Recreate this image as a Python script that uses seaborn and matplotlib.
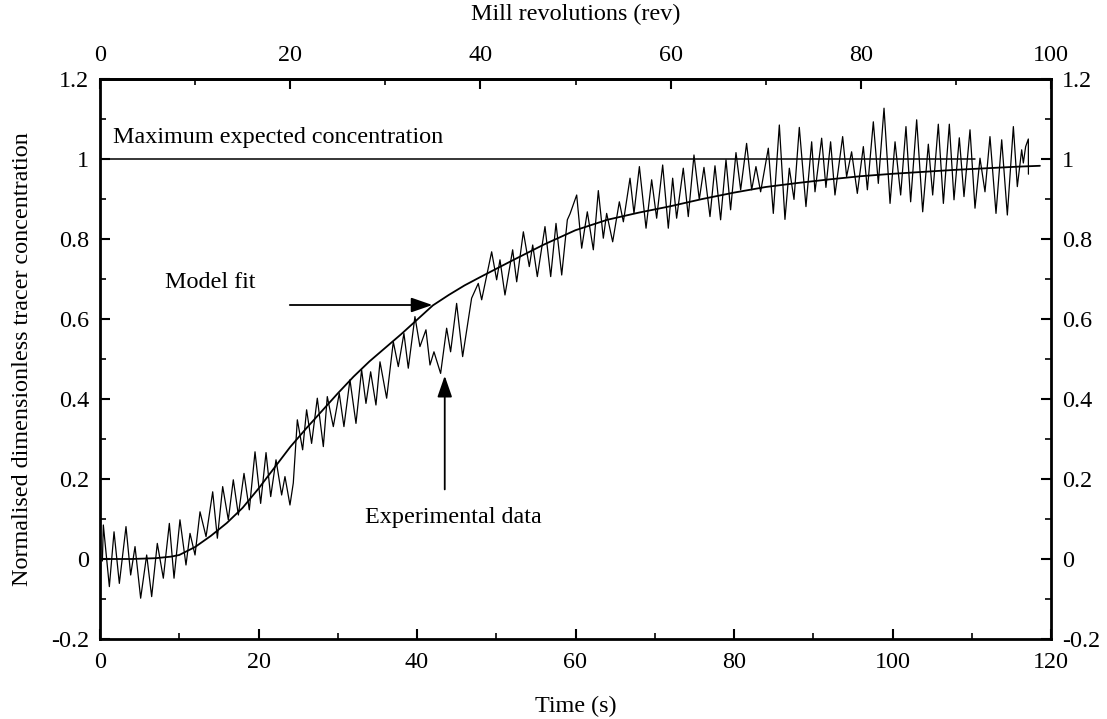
import numpy as np
import pandas as pd
import matplotlib
matplotlib.use("Agg")
import matplotlib.pyplot as plt
from matplotlib.ticker import MultipleLocator, FixedLocator, FuncFormatter
import seaborn as sns

exp_time = [0.30, 0.42, 1.18, 1.77, 2.44, 3.28, 3.87, 4.42, 5.13, 5.89, 6.52, 7.23, 7.99, 8.75, 9.34,
            10.09, 10.85, 11.36, 11.99, 12.62, 13.38, 14.22, 14.81, 15.48, 16.19, 16.82, 17.46, 18.17,
            18.84, 19.56, 20.27, 20.95, 21.54, 22.21, 22.92, 23.34, 23.97,
            24.39, 24.90, 25.57, 26.07, 26.70, 27.42, 28.18, 28.68, 29.44, 30.19, 30.78, 31.54, 32.30,
            33.01, 33.56, 34.15, 34.82, 35.33, 36.17, 37.01, 37.64, 38.35, 38.90, 39.74, 40.37, 41.13,
            41.64, 42.14, 42.98, 43.74, 44.24, 45.00, 45.76, 46.89, 47.73,
            48.16, 49.42, 50.05, 50.47, 51.10, 52.07, 52.58, 53.42, 54.17, 54.60, 55.18, 56.15, 56.87,
            57.54, 58.26, 58.97, 59.31, 60.15, 60.78, 61.49, 62.25, 62.88, 63.51, 63.93, 64.69, 65.53,
            66.04, 66.88, 67.38, 68.06, 68.90, 69.61, 70.24, 71.00, 71.71,
            72.26, 72.76, 73.60, 74.23, 74.95, 75.62, 76.21, 76.97, 77.60, 78.31, 78.99, 79.57, 80.25,
            80.84, 81.59, 82.23, 82.77, 83.36, 84.33, 84.96, 85.72, 86.43, 86.98, 87.57, 88.24, 89.08,
            89.80, 90.22, 91.06, 91.60, 92.19, 92.74, 93.71, 94.21, 94.84, 95.56,
            96.32, 96.83, 97.58, 98.21, 98.93, 99.69, 100.32, 101.03, 101.70, 102.29, 103.05, 103.81,
            104.52, 105.07, 105.78, 106.42, 107.17, 107.76, 108.43, 109.02, 109.78, 110.41, 111.04,
            111.67, 112.30, 113.06, 113.78, 114.49, 115.25, 115.75, 116.30, 116.51, 116.80, 117.14, 117.15]
exp_conc = [-0.005, 0.085, -0.069, 0.068, -0.061, 0.081, -0.040, 0.031, -0.098, 0.010, -0.094, 0.039,
            -0.048, 0.089, -0.048, 0.098, -0.015, 0.064, 0.010, 0.118, 0.056, 0.168, 0.052, 0.181, 0.098,
            0.198, 0.110, 0.214, 0.123, 0.268, 0.139, 0.266, 0.156, 0.248, 0.160, 0.206, 0.135,
            0.190, 0.348, 0.273, 0.373, 0.289, 0.402, 0.281, 0.406, 0.331, 0.414, 0.331, 0.448, 0.339,
            0.473, 0.389, 0.468, 0.385, 0.493, 0.402, 0.543, 0.481, 0.564, 0.477, 0.606, 0.531, 0.573,
            0.485, 0.518, 0.464, 0.577, 0.518, 0.639, 0.506, 0.652, 0.689,
            0.648, 0.768, 0.698, 0.748, 0.660, 0.773, 0.693, 0.818, 0.731, 0.785, 0.706, 0.831, 0.706,
            0.839, 0.710, 0.848, 0.863, 0.910, 0.777, 0.868, 0.773, 0.921, 0.802, 0.864, 0.793, 0.893,
            0.843, 0.952, 0.864, 0.981, 0.827, 0.948, 0.852, 0.985, 0.827,
            0.952, 0.852, 0.977, 0.856, 1.010, 0.899, 0.979, 0.856, 0.983, 0.848, 0.998, 0.873, 1.016,
            0.923, 1.039, 0.923, 0.981, 0.918, 1.027, 0.864, 1.085, 0.849, 0.977, 0.899, 1.079, 0.881,
            1.043, 0.918, 1.052, 0.929, 1.043, 0.910, 1.056, 0.956, 1.018, 0.914,
            1.031, 0.923, 1.093, 0.939, 1.127, 0.889, 1.043, 0.910, 1.081, 0.893, 1.098, 0.868,
            1.037, 0.910, 1.087, 0.889, 1.087, 0.898, 1.053, 0.906, 1.073, 0.877, 1.002,
            0.918, 1.056, 0.864, 1.048, 0.860, 1.081, 0.931, 1.023, 0.990, 1.031, 1.050, 0.962]

# Model fit
fit_time = [0, 4, 7, 9, 10, 12, 14, 16, 18, 20, 22, 24, 26, 28, 30, 32, 34, 36, 38, 40, 42, 44, 46,
            48, 52, 56, 60, 64, 68, 72, 76, 80, 84, 88, 92, 96, 100, 104, 108, 112, 116, 118.6]
fit_conc = [0.0, 0.0, 0.002, 0.006, 0.010, 0.030, 0.058, 0.090, 0.128, 0.176, 0.228, 0.280, 0.326,
            0.370, 0.414, 0.456, 0.494, 0.528, 0.562, 0.598, 0.634, 0.660, 0.684, 0.705, 0.746, 0.786,
            0.822, 0.848, 0.866, 0.882, 0.900, 0.916, 0.930, 0.940, 0.949, 0.957, 0.963, 0.968, 0.973,
            0.977, 0.981, 0.983]

# Maximum expected concentration line
max_time = [0, 110.4]
max_conc = [1.0, 1.0]

# Tick values
time_ticks = [0, 20, 40, 60, 80, 100, 120]
rev_ticks = [0, 20, 40, 60, 80, 100]
conc_ticks = [-0.2, 0, 0.2, 0.4, 0.6, 0.8, 1, 1.2]
conc_labels = ["-0.2", "0", "0.2", "0.4", "0.6", "0.8", "1", "1.2"]

sns.set_style("ticks")
plt.rcParams['font.family'] = ['Liberation Serif', 'DejaVu Serif']
plt.rcParams['axes.unicode_minus'] = False
for k in ['text.color', 'axes.labelcolor', 'xtick.color', 'ytick.color', 'axes.edgecolor']:
    plt.rcParams[k] = 'black'

fig = plt.figure(figsize=(11.07, 7.19), dpi=100)
ax = fig.add_axes([100/1107, 1-639/719, 951/1107, 560/719])

exp_df = pd.DataFrame({"t": exp_time, "c": exp_conc})
fit_df = pd.DataFrame({"t": fit_time, "c": fit_conc})
max_df = pd.DataFrame({"t": max_time, "c": max_conc})

sns.lineplot(data=exp_df, x="t", y="c", ax=ax, color="black", lw=0.9, sort=False, estimator=None)
sns.lineplot(data=fit_df, x="t", y="c", ax=ax, color="black", lw=1.3, sort=False, estimator=None)
sns.lineplot(data=max_df, x="t", y="c", ax=ax, color="black", lw=1.1, sort=False, estimator=None)

ax.set_xlim(0, 120)
ax.set_ylim(-0.2, 1.2)
fs = 17.4
ax.set_xticks(time_ticks)
ax.set_xticklabels([str(v) for v in time_ticks])
ax.xaxis.set_minor_locator(MultipleLocator(10))
ax.set_yticks(conc_ticks)
ax.set_yticklabels(conc_labels)
ax.yaxis.set_minor_locator(MultipleLocator(0.1))
ax.tick_params(axis="both", which="major", direction="in", length=7, width=1.5,
               labelsize=fs, colors="black", pad=8)
ax.tick_params(axis="x", which="major", pad=9.5)
ax.tick_params(axis="both", which="minor", direction="in", length=4, width=1.2)
ax.tick_params(axis="y", which="both", left=True, right=True, labelright=True)
ax.tick_params(axis="x", which="both", top=False, bottom=True)
for s in ax.spines.values():
    s.set_visible(True)
    s.set_linewidth(2)
    s.set_color("black")

sec = ax.secondary_xaxis("top", functions=(lambda t: t / 1.2, lambda r: r * 1.2))
sec.xaxis.set_major_locator(FixedLocator(rev_ticks))
sec.xaxis.set_minor_locator(FixedLocator([10, 30, 50, 70, 90]))
sec.xaxis.set_major_formatter(FuncFormatter(lambda v, p: "%d" % round(v)))
sec.tick_params(axis="x", which="major", direction="in", length=7, width=1.5, labelsize=fs, pad=9)
sec.tick_params(axis="x", which="minor", direction="in", length=4, width=1.2)
sec.spines["top"].set_linewidth(2)
sec.set_xlabel("Mill revolutions (rev)", fontsize=fs, labelpad=18)

ax.set_xlabel("Time (s)", fontsize=fs, labelpad=16)
ax.set_ylabel("Normalised dimensionless tracer concentration", fontsize=fs, labelpad=13)

ax.text(1.6, 1.055, "Maximum expected concentration", fontsize=fs, ha="left", va="center")
ax.text(8.2, 0.69, "Model fit", fontsize=fs, ha="left", va="center")
ax.text(33.4, 0.1025, "Experimental data", fontsize=fs, ha="left", va="center")

ax.annotate("", xy=(42.3, 0.635), xytext=(23.6, 0.635),
            arrowprops=dict(arrowstyle="-|>,head_length=1.3,head_width=0.45", color="black", lw=1.3))
ax.annotate("", xy=(43.5, 0.465), xytext=(43.5, 0.167),
            arrowprops=dict(arrowstyle="-|>,head_length=1.3,head_width=0.45", color="black", lw=1.3))

fig.savefig("out.png", dpi=100)
